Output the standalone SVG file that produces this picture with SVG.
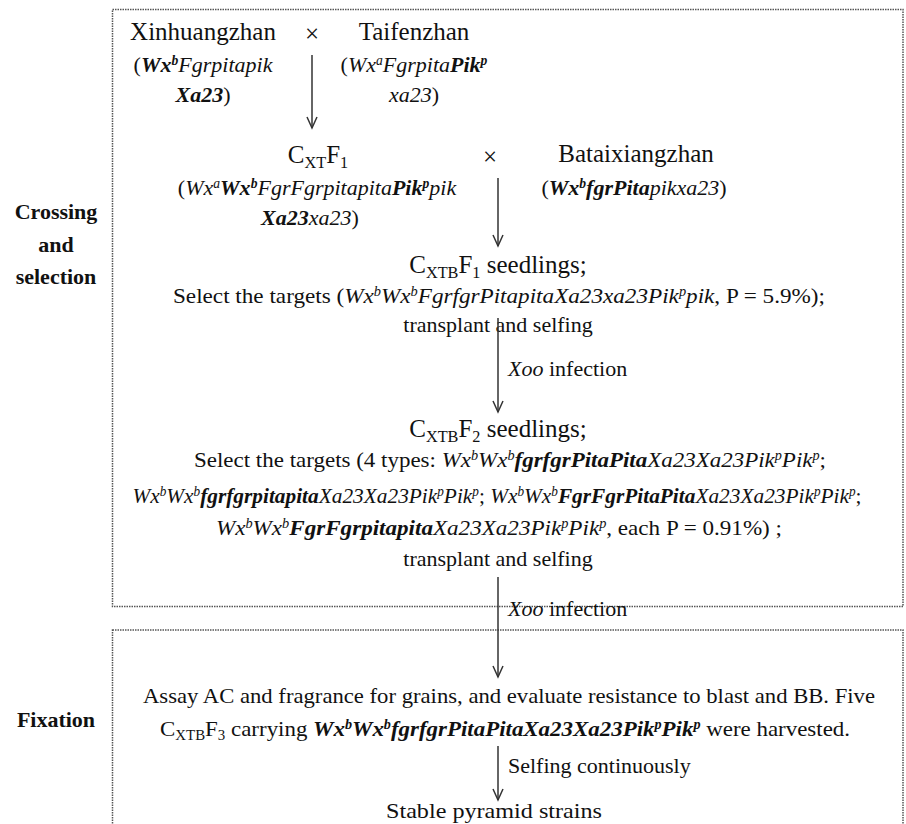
<svg xmlns="http://www.w3.org/2000/svg" width="906" height="824" viewBox="0 0 906 824">
<style>
text, tspan{font-family:"Liberation Serif","Times New Roman",serif;}
text{fill:#111;}
.big{font-size:25px;}
.t{font-size:22px;}
.lab{font-size:22px;font-weight:bold;text-anchor:middle;}
.c{text-anchor:middle;}
.i{font-style:italic;}
.bi{font-weight:bold;font-style:italic;}
.sup{baseline-shift:0.5em;font-size:62%;}
.sub{baseline-shift:-0.3em;font-size:65%;}
.box{fill:none;stroke:#555;stroke-width:1.5;stroke-dasharray:1.5 1;}
.conn{stroke:#333;stroke-width:1.5;fill:none;marker-end:url(#arr);}
</style>
<defs>
<marker id="arr" markerUnits="userSpaceOnUse" markerWidth="14" markerHeight="14" refX="0" refY="0" orient="auto" viewBox="-12 -7 14 14" overflow="visible">
<path d="M-11,-5 L0,0 L-11,5" fill="none" stroke="#333" stroke-width="1.5"/>
</marker>
</defs>
<rect width="906" height="824" fill="#fff"/>
<g id="frames">
<rect class="box" x="112.5" y="9.5" width="790.5" height="597"/>
<rect class="box" x="112.5" y="630" width="790.5" height="210"/>
</g>
<g id="labels">
<text class="lab" x="56" y="219">Crossing</text>
<text class="lab" x="56" y="252">and</text>
<text class="lab" x="56" y="284">selection</text>
<text class="lab" x="56" y="727">Fixation</text>
</g>
<g id="node-xinhuangzhan">
<text class="big c" x="203" y="40">Xinhuangzhan</text>
<text class="t c" x="203" y="72">(<tspan class="bi">Wx</tspan><tspan class="bi sup">b</tspan><tspan class="i">Fgrpitapik</tspan></text>
<text class="t c" x="203" y="102"><tspan class="bi">Xa23</tspan>)</text>
</g>
<g id="cross1"><text class="big c" x="312" y="42">×</text></g>
<g id="node-taifenzhan">
<text class="big c" x="414" y="40">Taifenzhan</text>
<text class="t c" x="414" y="72">(<tspan class="i">Wx</tspan><tspan class="i sup">a</tspan><tspan class="i">Fgrpita</tspan><tspan class="bi">Pik</tspan><tspan class="bi sup">p</tspan></text>
<text class="t c" x="414" y="102"><tspan class="i">xa23</tspan>)</text>
</g>
<g id="node-cxtf1">
<text class="big c" x="318" y="163">C<tspan class="sub">XT</tspan>F<tspan class="sub">1</tspan></text>
<text class="t c" x="317" y="195">(<tspan class="i">Wx</tspan><tspan class="i sup">a</tspan><tspan class="bi">Wx</tspan><tspan class="bi sup">b</tspan><tspan class="i">FgrFgrpitapita</tspan><tspan class="bi">Pik</tspan><tspan class="bi sup">p</tspan><tspan class="i">pik</tspan></text>
<text class="t c" x="310" y="225"><tspan class="bi">Xa23</tspan><tspan class="i">xa23</tspan>)</text>
</g>
<g id="cross2"><text class="big c" x="490" y="165">×</text></g>
<g id="node-bataixiangzhan">
<text class="big c" x="636" y="162">Bataixiangzhan</text>
<text class="t c" x="634" y="195">(<tspan class="bi">Wx</tspan><tspan class="bi sup">b</tspan><tspan class="bi">fgrPita</tspan><tspan class="i">pikxa23</tspan>)</text>
</g>
<g id="node-cxtbf1">
<text class="big c" x="498" y="273">C<tspan class="sub">XTB</tspan>F<tspan class="sub">1</tspan> seedlings;</text>
<text class="t c" x="499" y="303" textLength="652" lengthAdjust="spacingAndGlyphs">Select the targets (<tspan class="i">Wx</tspan><tspan class="i sup">b</tspan><tspan class="i">Wx</tspan><tspan class="i sup">b</tspan><tspan class="i">FgrfgrPitapitaXa23xa23Pik</tspan><tspan class="i sup">p</tspan><tspan class="i">pik</tspan>, P =  5.9%);</text>
<text class="t c" x="498" y="332">transplant and selfing</text>
</g>
<g id="node-cxtbf2">
<text class="big c" x="498" y="437">C<tspan class="sub">XTB</tspan>F<tspan class="sub">2</tspan> seedlings;</text>
<text class="t c" x="510" y="467" textLength="632" lengthAdjust="spacingAndGlyphs">Select the targets (4 types: <tspan class="i">Wx</tspan><tspan class="i sup">b</tspan><tspan class="i">Wx</tspan><tspan class="i sup">b</tspan><tspan class="bi">fgrfgrPitaPita</tspan><tspan class="i">Xa23Xa23Pik</tspan><tspan class="i sup">p</tspan><tspan class="i">Pik</tspan><tspan class="i sup">p</tspan>;</text>
<text class="t c" x="497" y="503" textLength="729" lengthAdjust="spacingAndGlyphs"><tspan class="i">Wx</tspan><tspan class="i sup">b</tspan><tspan class="i">Wx</tspan><tspan class="i sup">b</tspan><tspan class="bi">fgrfgrpitapita</tspan><tspan class="i">Xa23Xa23Pik</tspan><tspan class="i sup">p</tspan><tspan class="i">Pik</tspan><tspan class="i sup">p</tspan>; <tspan class="i">Wx</tspan><tspan class="i sup">b</tspan><tspan class="i">Wx</tspan><tspan class="i sup">b</tspan><tspan class="bi">FgrFgrPitaPita</tspan><tspan class="i">Xa23Xa23Pik</tspan><tspan class="i sup">p</tspan><tspan class="i">Pik</tspan><tspan class="i sup">p</tspan>;</text>
<text class="t c" x="499" y="535" textLength="566" lengthAdjust="spacingAndGlyphs"><tspan class="i">Wx</tspan><tspan class="i sup">b</tspan><tspan class="i">Wx</tspan><tspan class="i sup">b</tspan><tspan class="bi">FgrFgrpitapita</tspan><tspan class="i">Xa23Xa23Pik</tspan><tspan class="i sup">p</tspan><tspan class="i">Pik</tspan><tspan class="i sup">p</tspan>, each P = 0.91%) ;</text>
<text class="t c" x="498" y="566">transplant and selfing</text>
</g>
<g id="node-cxtbf3">
<text class="t c" x="509" y="703" textLength="732" lengthAdjust="spacingAndGlyphs">Assay AC and fragrance for grains, and evaluate resistance to blast and BB. Five</text>
<text class="t c" x="505" y="736" textLength="690" lengthAdjust="spacingAndGlyphs">C<tspan class="sub">XTB</tspan>F<tspan class="sub">3</tspan> carrying <tspan class="bi">Wx</tspan><tspan class="bi sup">b</tspan><tspan class="bi">Wx</tspan><tspan class="bi sup">b</tspan><tspan class="bi">fgrfgrPitaPitaXa23Xa23Pik</tspan><tspan class="bi sup">p</tspan><tspan class="bi">Pik</tspan><tspan class="bi sup">p</tspan> were harvested.</text>
</g>
<g id="node-stable">
<text class="t c" x="494" y="818" textLength="216" lengthAdjust="spacingAndGlyphs">Stable pyramid strains</text>
</g>
<g id="connectors">
<line class="conn" x1="312" y1="55" x2="312" y2="128"/>
<line class="conn" x1="498" y1="178" x2="498" y2="246"/>
<line class="conn" x1="498" y1="318" x2="498" y2="412"/>
<line class="conn" x1="498" y1="577" x2="498" y2="677"/>
<line class="conn" x1="498" y1="746" x2="498" y2="800"/>
</g>
<g id="connector-labels">
<text class="t" x="508" y="376"><tspan class="i">Xoo</tspan> infection</text>
<text class="t" x="508" y="616"><tspan class="i">Xoo</tspan> infection</text>
<text class="t" x="508" y="773">Selfing continuously</text>
</g>
</svg>
